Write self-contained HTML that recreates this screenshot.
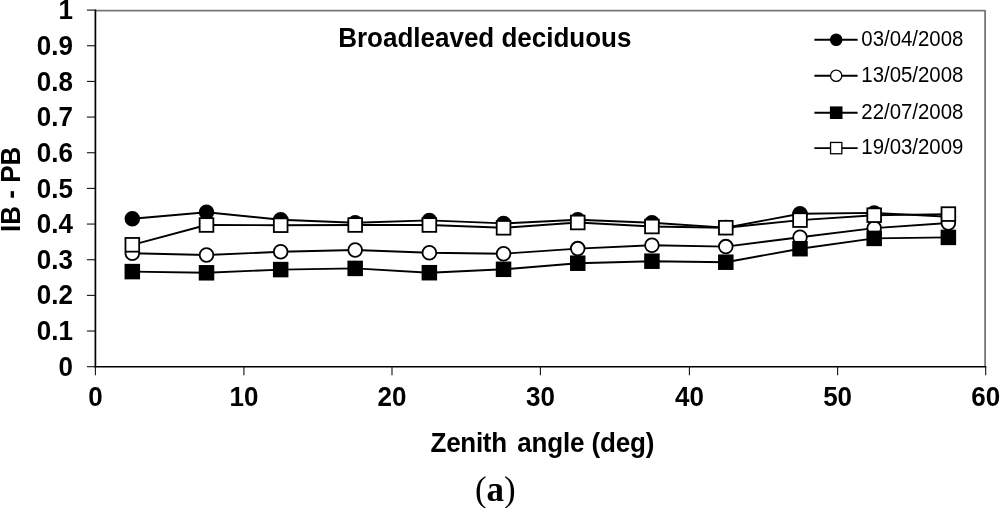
<!DOCTYPE html>
<html><head><meta charset="utf-8"><title>Broadleaved deciduous</title>
<style>html,body{margin:0;padding:0;background:#fff;}svg{display:block;}text{font-family:"Liberation Sans",Arial,sans-serif;fill:#000;}.b{font-weight:bold;font-size:26px;}.l{font-size:20.4px;}.s{font-family:"Liberation Serif","Times New Roman",serif;font-size:35px;}</style></head><body>
<svg width="1000" height="508" viewBox="0 0 1000 508">
<rect width="1000" height="508" fill="#fff"/>
<path d="M95.4 10.7 H985.1 V366.7" fill="none" stroke="#777" stroke-width="1.8" stroke-linejoin="round"/>
<path d="M95.4 9.6 V367.5" fill="none" stroke="#000" stroke-width="1.7"/>
<path d="M94.60000000000001 366.7 H986.3000000000001" fill="none" stroke="#000" stroke-width="1.6"/>
<path d="M86.9 366.70 H95.4" stroke="#111" stroke-width="1.1"/>
<text class="b" transform="translate(72.90 375.80) scale(1 1.05)" text-anchor="end">0</text>
<path d="M86.9 331.04 H95.4" stroke="#111" stroke-width="1.1"/>
<text class="b" transform="translate(72.90 340.14) scale(1 1.05)" text-anchor="end">0.1</text>
<path d="M86.9 295.38 H95.4" stroke="#111" stroke-width="1.1"/>
<text class="b" transform="translate(72.90 304.48) scale(1 1.05)" text-anchor="end">0.2</text>
<path d="M86.9 259.72 H95.4" stroke="#111" stroke-width="1.1"/>
<text class="b" transform="translate(72.90 268.82) scale(1 1.05)" text-anchor="end">0.3</text>
<path d="M86.9 224.06 H95.4" stroke="#111" stroke-width="1.1"/>
<text class="b" transform="translate(72.90 233.16) scale(1 1.05)" text-anchor="end">0.4</text>
<path d="M86.9 188.40 H95.4" stroke="#111" stroke-width="1.1"/>
<text class="b" transform="translate(72.90 197.50) scale(1 1.05)" text-anchor="end">0.5</text>
<path d="M86.9 152.74 H95.4" stroke="#111" stroke-width="1.1"/>
<text class="b" transform="translate(72.90 161.84) scale(1 1.05)" text-anchor="end">0.6</text>
<path d="M86.9 117.08 H95.4" stroke="#111" stroke-width="1.1"/>
<text class="b" transform="translate(72.90 126.18) scale(1 1.05)" text-anchor="end">0.7</text>
<path d="M86.9 81.42 H95.4" stroke="#111" stroke-width="1.1"/>
<text class="b" transform="translate(72.90 90.52) scale(1 1.05)" text-anchor="end">0.8</text>
<path d="M86.9 45.76 H95.4" stroke="#111" stroke-width="1.1"/>
<text class="b" transform="translate(72.90 54.86) scale(1 1.05)" text-anchor="end">0.9</text>
<path d="M86.9 10.10 H95.4" stroke="#111" stroke-width="1.1"/>
<text class="b" transform="translate(72.90 19.20) scale(1 1.05)" text-anchor="end">1</text>
<path d="M95.40 366.7 V375.2" stroke="#111" stroke-width="1.1"/>
<text class="b" transform="translate(95.40 405.70) scale(1 1.04)" text-anchor="middle">0</text>
<path d="M243.90 366.7 V375.2" stroke="#111" stroke-width="1.1"/>
<text class="b" transform="translate(243.90 405.70) scale(1 1.04)" text-anchor="middle">10</text>
<path d="M392.00 366.7 V375.2" stroke="#111" stroke-width="1.1"/>
<text class="b" transform="translate(392.00 405.70) scale(1 1.04)" text-anchor="middle">20</text>
<path d="M540.40 366.7 V375.2" stroke="#111" stroke-width="1.1"/>
<text class="b" transform="translate(540.40 405.70) scale(1 1.04)" text-anchor="middle">30</text>
<path d="M689.40 366.7 V375.2" stroke="#111" stroke-width="1.1"/>
<text class="b" transform="translate(689.40 405.70) scale(1 1.04)" text-anchor="middle">40</text>
<path d="M837.60 366.7 V375.2" stroke="#111" stroke-width="1.1"/>
<text class="b" transform="translate(837.60 405.70) scale(1 1.04)" text-anchor="middle">50</text>
<path d="M985.70 366.7 V375.2" stroke="#111" stroke-width="1.1"/>
<text class="b" transform="translate(985.70 405.70) scale(1 1.04)" text-anchor="middle">60</text>
<polyline points="132.32,218.70 206.51,212.20 280.69,219.80 355.18,222.80 429.37,220.40 503.55,223.40 577.74,219.80 651.93,222.80 725.81,227.60 800.00,213.80 874.19,212.90 948.37,216.80" fill="none" stroke="#000" stroke-width="1.9" stroke-linejoin="round"/>
<circle cx="132.32" cy="218.70" r="6.85" fill="#000" stroke="#000" stroke-width="1.8"/>
<circle cx="206.51" cy="212.20" r="6.85" fill="#000" stroke="#000" stroke-width="1.8"/>
<circle cx="280.69" cy="219.80" r="6.85" fill="#000" stroke="#000" stroke-width="1.8"/>
<circle cx="355.18" cy="222.80" r="6.85" fill="#000" stroke="#000" stroke-width="1.8"/>
<circle cx="429.37" cy="220.40" r="6.85" fill="#000" stroke="#000" stroke-width="1.8"/>
<circle cx="503.55" cy="223.40" r="6.85" fill="#000" stroke="#000" stroke-width="1.8"/>
<circle cx="577.74" cy="219.80" r="6.85" fill="#000" stroke="#000" stroke-width="1.8"/>
<circle cx="651.93" cy="222.80" r="6.85" fill="#000" stroke="#000" stroke-width="1.8"/>
<circle cx="725.81" cy="227.60" r="6.85" fill="#000" stroke="#000" stroke-width="1.8"/>
<circle cx="800.00" cy="213.80" r="6.85" fill="#000" stroke="#000" stroke-width="1.8"/>
<circle cx="874.19" cy="212.90" r="6.85" fill="#000" stroke="#000" stroke-width="1.8"/>
<circle cx="948.37" cy="216.80" r="6.85" fill="#000" stroke="#000" stroke-width="1.8"/>
<polyline points="132.32,253.20 206.51,255.00 280.69,251.80 355.18,250.00 429.37,252.80 503.55,253.70 577.74,248.60 651.93,245.30 725.81,246.60 800.00,237.20 874.19,228.10 948.37,223.00" fill="none" stroke="#000" stroke-width="1.9" stroke-linejoin="round"/>
<circle cx="132.32" cy="253.20" r="6.85" fill="#fff" stroke="#000" stroke-width="1.8"/>
<circle cx="206.51" cy="255.00" r="6.85" fill="#fff" stroke="#000" stroke-width="1.8"/>
<circle cx="280.69" cy="251.80" r="6.85" fill="#fff" stroke="#000" stroke-width="1.8"/>
<circle cx="355.18" cy="250.00" r="6.85" fill="#fff" stroke="#000" stroke-width="1.8"/>
<circle cx="429.37" cy="252.80" r="6.85" fill="#fff" stroke="#000" stroke-width="1.8"/>
<circle cx="503.55" cy="253.70" r="6.85" fill="#fff" stroke="#000" stroke-width="1.8"/>
<circle cx="577.74" cy="248.60" r="6.85" fill="#fff" stroke="#000" stroke-width="1.8"/>
<circle cx="651.93" cy="245.30" r="6.85" fill="#fff" stroke="#000" stroke-width="1.8"/>
<circle cx="725.81" cy="246.60" r="6.85" fill="#fff" stroke="#000" stroke-width="1.8"/>
<circle cx="800.00" cy="237.20" r="6.85" fill="#fff" stroke="#000" stroke-width="1.8"/>
<circle cx="874.19" cy="228.10" r="6.85" fill="#fff" stroke="#000" stroke-width="1.8"/>
<circle cx="948.37" cy="223.00" r="6.85" fill="#fff" stroke="#000" stroke-width="1.8"/>
<polyline points="132.32,271.60 206.51,272.80 280.69,269.60 355.18,268.40 429.37,272.70 503.55,269.30 577.74,263.20 651.93,261.20 725.81,262.20 800.00,248.70 874.19,238.40 948.37,237.40" fill="none" stroke="#000" stroke-width="1.9" stroke-linejoin="round"/>
<rect x="125.47" y="264.75" width="13.70" height="13.70" fill="#000" stroke="#000" stroke-width="1.8"/>
<rect x="199.66" y="265.95" width="13.70" height="13.70" fill="#000" stroke="#000" stroke-width="1.8"/>
<rect x="273.84" y="262.75" width="13.70" height="13.70" fill="#000" stroke="#000" stroke-width="1.8"/>
<rect x="348.33" y="261.55" width="13.70" height="13.70" fill="#000" stroke="#000" stroke-width="1.8"/>
<rect x="422.52" y="265.85" width="13.70" height="13.70" fill="#000" stroke="#000" stroke-width="1.8"/>
<rect x="496.70" y="262.45" width="13.70" height="13.70" fill="#000" stroke="#000" stroke-width="1.8"/>
<rect x="570.89" y="256.35" width="13.70" height="13.70" fill="#000" stroke="#000" stroke-width="1.8"/>
<rect x="645.08" y="254.35" width="13.70" height="13.70" fill="#000" stroke="#000" stroke-width="1.8"/>
<rect x="718.96" y="255.35" width="13.70" height="13.70" fill="#000" stroke="#000" stroke-width="1.8"/>
<rect x="793.15" y="241.85" width="13.70" height="13.70" fill="#000" stroke="#000" stroke-width="1.8"/>
<rect x="867.34" y="231.55" width="13.70" height="13.70" fill="#000" stroke="#000" stroke-width="1.8"/>
<rect x="941.52" y="230.55" width="13.70" height="13.70" fill="#000" stroke="#000" stroke-width="1.8"/>
<polyline points="132.32,244.80 206.51,225.00 280.69,225.20 355.18,225.00 429.37,225.00 503.55,227.80 577.74,222.50 651.93,226.50 725.81,227.70 800.00,220.10 874.19,215.20 948.37,214.10" fill="none" stroke="#000" stroke-width="1.9" stroke-linejoin="round"/>
<rect x="125.47" y="237.95" width="13.70" height="13.70" fill="#fff" stroke="#000" stroke-width="1.8"/>
<rect x="199.66" y="218.15" width="13.70" height="13.70" fill="#fff" stroke="#000" stroke-width="1.8"/>
<rect x="273.84" y="218.35" width="13.70" height="13.70" fill="#fff" stroke="#000" stroke-width="1.8"/>
<rect x="348.33" y="218.15" width="13.70" height="13.70" fill="#fff" stroke="#000" stroke-width="1.8"/>
<rect x="422.52" y="218.15" width="13.70" height="13.70" fill="#fff" stroke="#000" stroke-width="1.8"/>
<rect x="496.70" y="220.95" width="13.70" height="13.70" fill="#fff" stroke="#000" stroke-width="1.8"/>
<rect x="570.89" y="215.65" width="13.70" height="13.70" fill="#fff" stroke="#000" stroke-width="1.8"/>
<rect x="645.08" y="219.65" width="13.70" height="13.70" fill="#fff" stroke="#000" stroke-width="1.8"/>
<rect x="718.96" y="220.85" width="13.70" height="13.70" fill="#fff" stroke="#000" stroke-width="1.8"/>
<rect x="793.15" y="213.25" width="13.70" height="13.70" fill="#fff" stroke="#000" stroke-width="1.8"/>
<rect x="867.34" y="208.35" width="13.70" height="13.70" fill="#fff" stroke="#000" stroke-width="1.8"/>
<rect x="941.52" y="207.25" width="13.70" height="13.70" fill="#fff" stroke="#000" stroke-width="1.8"/>
<text class="b" transform="translate(484.80 47.30) scale(1 1.04)" text-anchor="middle">Broadleaved deciduous</text>
<text class="b" transform="translate(0 452.2) scale(1 1.04)"><tspan x="430.6" style="letter-spacing:-0.3px">Zenith</tspan> <tspan x="654.2" text-anchor="end" style="letter-spacing:-0.16px">angle (deg)</tspan></text>
<text class="b" transform="translate(20.3 189.3) rotate(-90) scale(1 1.04)" text-anchor="middle">IB - PB</text>
<path d="M814.4 39.70 H857.6" stroke="#000" stroke-width="1.9"/>
<circle cx="836.20" cy="39.70" r="5.65" fill="#000" stroke="#000" stroke-width="1.3"/>
<text class="l" transform="translate(861.3 45.80) scale(1 1.08)">03/04/2008</text>
<path d="M814.4 75.70 H857.6" stroke="#000" stroke-width="1.9"/>
<circle cx="836.20" cy="75.70" r="5.65" fill="#fff" stroke="#000" stroke-width="1.3"/>
<text class="l" transform="translate(861.3 81.80) scale(1 1.08)">13/05/2008</text>
<path d="M814.4 112.70 H857.6" stroke="#000" stroke-width="1.9"/>
<rect x="830.55" y="107.05" width="11.30" height="11.30" fill="#000" stroke="#000" stroke-width="1.3"/>
<text class="l" transform="translate(861.3 118.80) scale(1 1.08)">22/07/2008</text>
<path d="M814.4 148.10 H857.6" stroke="#000" stroke-width="1.9"/>
<rect x="830.55" y="142.45" width="11.30" height="11.30" fill="#fff" stroke="#000" stroke-width="1.3"/>
<text class="l" transform="translate(861.3 154.20) scale(1 1.08)">19/03/2009</text>
<text class="s" x="495.3" y="501.3" text-anchor="middle">(<tspan font-weight="bold" dy="-0.7">a</tspan><tspan dy="0.7">)</tspan></text>
</svg></body></html>
